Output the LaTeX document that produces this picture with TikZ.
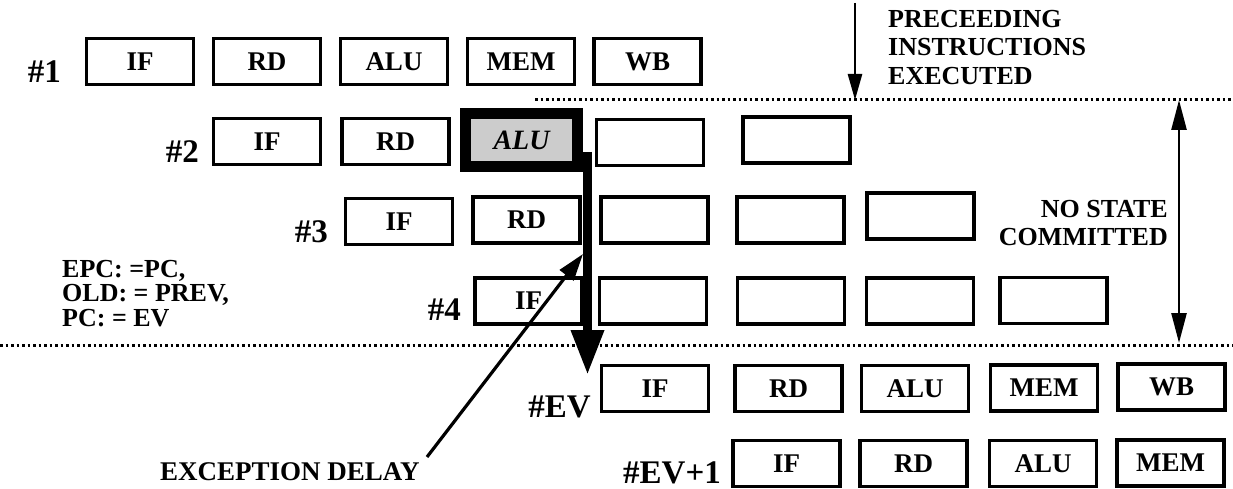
\documentclass[tikz,border=0pt]{standalone}
\usepackage{fontspec}
\setmainfont{Liberation Serif}
\usetikzlibrary{arrows.meta}
\begin{document}
\begin{tikzpicture}[x=1pt,y=-1pt,
  stagebox/.style={draw, line width=3.4pt, minimum width=107pt, minimum height=46pt, inner sep=0pt, font=\fontsize{27}{28}\selectfont\bfseries},
  lbl/.style={anchor=base east, inner sep=0pt, font=\fontsize{33}{34}\selectfont\bfseries},
  txt/.style={inner sep=0pt, font=\fontsize{26}{28.5}\selectfont\bfseries},
  dotline/.style={line width=3pt, dash pattern=on 2.5pt off 3pt},
  thinarrow/.style={line width=2.6pt, -{Triangle[width=14pt,length=26pt]}},
  ]
\useasboundingbox (0,0) rectangle (1233,489);

% row 1
\node[stagebox] (r1a) at (140,61.5) {IF};
\node[stagebox] (r1b) at (267,61.5) {RD};
\node[stagebox] (r1c) at (394,61.5) {ALU};
\node[stagebox] (r1d) at (521,61.5) {MEM};
\node[stagebox] (r1e) at (647.5,61.5) {WB};
\node[lbl] (l1) at (61,83) {\#1};

% row 2
\node[stagebox] (r2a) at (267,141.5) {IF};
\node[stagebox] (r2b) at (395.5,141.5) {RD};
\node[draw, line width=11pt, fill=gray!40, minimum width=112pt, minimum height=53pt, inner sep=0pt,
      font=\fontsize{28}{28}\selectfont\bfseries\itshape] (r2c) at (521.5,140) {ALU};
\node[stagebox] (r2d) at (650,142.5) {};
\node[stagebox] (r2e) at (796.5,140) {};
\node[lbl] (l2) at (199,163) {\#2};

% row 3
\node[stagebox] (r3a) at (399,221.5) {IF};
\node[stagebox] (r3b) at (526.5,220) {RD};
\node[stagebox] (r3c) at (654.5,220) {};
\node[stagebox] (r3d) at (790.5,220) {};
\node[stagebox] (r3e) at (920.5,216) {};
\node[lbl] (l3) at (328,242) {\#3};

% row 4
\node[stagebox] (r4a) at (528.5,301) {IF};
\node[stagebox] (r4b) at (653,301) {};
\node[stagebox] (r4c) at (791,301) {};
\node[stagebox] (r4d) at (920,301) {};
\node[stagebox] (r4e) at (1053.5,300.5) {};
\node[lbl] (l4) at (461,320) {\#4};

% row EV
\node[stagebox] (r5a) at (655,388.5) {IF};
\node[stagebox] (r5b) at (788.5,388.5) {RD};
\node[stagebox] (r5c) at (915,388.5) {ALU};
\node[stagebox] (r5d) at (1044,388) {MEM};
\node[stagebox] (r5e) at (1171.5,387) {WB};
\node[lbl] (l5) at (591,417) {\#EV};

% row EV+1
\node[stagebox] (r6a) at (786.5,463.5) {IF};
\node[stagebox] (r6b) at (913.5,463.5) {RD};
\node[stagebox] (r6c) at (1043,463.5) {ALU};
\node[stagebox] (r6d) at (1170.5,463) {MEM};
\node[lbl] (l6) at (721,483) {\#EV+1};

% texts
\node[txt, anchor=north west, align=left] (prec) at (888,10) {PRECEEDING\\INSTRUCTIONS\\EXECUTED};
\node[txt, anchor=north east, align=right] (nostate) at (1168,200) {NO STATE\\COMMITTED};
\node[txt, anchor=north west, align=left, font=\fontsize{26}{24.5}\selectfont\bfseries] (epc) at (62,260) {EPC: =PC,\\OLD: = PREV,\\PC: = EV};
\node[txt, anchor=base west, font=\fontsize{27}{28}\selectfont\bfseries] (delay) at (160,480) {EXCEPTION DELAY};

% dotted lines
\coordinate (d1a) at (535,100);
\coordinate (d1b) at (1233,100);
\coordinate (d2a) at (0,345);
\coordinate (d2b) at (1233,345);
\draw[dotline] (d1a) -- (d1b);
\draw[dotline] (d2a) -- (d2b);

% preceding arrow
\coordinate (pa) at (855,3);
\coordinate (pb) at (855,100);
\draw[thinarrow] (pa) -- (pb);

% no state committed double arrow
\coordinate (na) at (1179,100);
\coordinate (nb) at (1179,343);
\draw[line width=2.6pt, {Triangle[width=15pt,length=30pt]}-{Triangle[width=15pt,length=30pt]}] (na) -- (nb);

% thick exception arrow
\coordinate (ta) at (587.5,152);
\coordinate (tb) at (587.5,375);
\draw[line width=9.5pt, -{Triangle[width=31pt,length=45pt]}] (ta) -- (tb);

% exception delay arrow
\coordinate (ea) at (427,457);
\coordinate (eb) at (583,254);
\draw[line width=3.2pt, -{Triangle[width=17pt,length=27pt]}] (ea) -- (eb);
\end{tikzpicture}
\end{document}
